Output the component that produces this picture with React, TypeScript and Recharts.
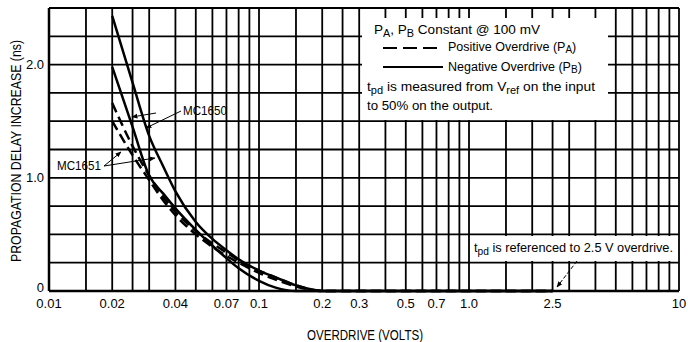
import React from 'react';
import { LineChart, Line, XAxis, YAxis, CartesianGrid } from 'recharts';

// overdrive (volts) sample points shared by all curves
const overdrive = [0.02, 0.025, 0.03, 0.035, 0.04, 0.05, 0.06, 0.07, 0.08, 0.1, 0.12, 0.15, 0.2, 0.3, 0.5, 1, 2.5];

// propagation delay increase (ns)
const mc1650Neg = [2.43, 1.84, 1.37, 1.1, 0.88, 0.61, 0.46, 0.36, 0.28, 0.18, 0.12, 0.05, 0, 0, 0, 0, 0];
const mc1650Low = [1.98, 1.45, 1.02, 0.86, 0.73, 0.54, 0.4, 0.29, 0.2, 0.09, 0.03, 0, 0, 0, 0, 0, 0];
const mc1651PosA = [1.66, 1.28, 1.02, 0.83, 0.7, 0.53, 0.42, 0.34, 0.27, 0.18, 0.12, 0.05, 0, 0, 0, 0, 0];
const mc1651PosB = [1.5, 1.2, 0.98, 0.8, 0.67, 0.5, 0.39, 0.31, 0.25, 0.16, 0.1, 0.04, 0, 0, 0, 0, 0];

// grid lines
const xGrid = [
  0.01, 0.015, 0.02, 0.025, 0.03, 0.04, 0.05, 0.06, 0.07, 0.08, 0.09,
  0.1, 0.15, 0.2, 0.25, 0.3, 0.4, 0.5, 0.6, 0.7, 0.8, 0.9,
  1, 1.5, 2, 2.5, 3, 4, 5, 6, 7, 8, 9, 10,
];
const xLabels: Record<string, string> = {
  '0.01': '0.01', '0.02': '0.02', '0.04': '0.04', '0.07': '0.07', '0.1': '0.1', '0.2': '0.2',
  '0.3': '0.3', '0.5': '0.5', '0.7': '0.7', '1': '1.0', '2.5': '2.5', '10': '10',
};
const yGrid = [0, 0.25, 0.5, 0.75, 1, 1.25, 1.5, 1.75, 2, 2.25, 2.5];
const yLabels: Record<string, string> = { '0': '0', '1': '1.0', '2': '2.0' };

const data = overdrive.map((v, i) => ({
  v,
  a: mc1650Neg[i],
  b: mc1650Low[i],
  c: mc1651PosA[i],
  d: mc1651PosB[i],
}));

const FONT = '"Liberation Sans", Arial, Helvetica, sans-serif';

const XTick = (props: any) => {
  const label = xLabels[String(props.payload.value)];
  if (!label) return null;
  return (
    <text x={props.x} y={308} textAnchor="middle" fontSize={13} fontFamily={FONT} fill="#000">
      {label}
    </text>
  );
};

const YTick = (props: any) => {
  const label = yLabels[String(props.payload.value)];
  if (!label) return null;
  return (
    <text x={44} y={props.y + (props.payload.value === 0 ? 1 : 4.5)} textAnchor="end" fontSize={13} fontFamily={FONT} fill="#000">
      {label}
    </text>
  );
};

export default function App() {
  return (
    <div style={{ position: 'absolute', left: 0, top: 0, width: 688, height: 342, background: '#fff' }}>
      <LineChart width={688} height={342} data={data} margin={{ top: 8, right: 9, left: 0, bottom: 21 }}>
        <CartesianGrid stroke="#000" strokeWidth={1.8} />
        <XAxis
          dataKey="v"
          type="number"
          scale="log"
          domain={[0.01, 10]}
          ticks={xGrid}
          interval={0}
          allowDataOverflow
          tickLine={false}
          axisLine={{ stroke: '#000', strokeWidth: 2.5 }}
          tick={<XTick />}
          height={30}
        />
        <YAxis
          type="number"
          domain={[0, 2.5]}
          ticks={yGrid}
          interval={0}
          tickLine={false}
          axisLine={{ stroke: '#000', strokeWidth: 2.5 }}
          tick={<YTick />}
          width={49}
        />
        <Line dataKey="a" type="monotone" stroke="#000" strokeWidth={2.5} dot={false} isAnimationActive={false} />
        <Line dataKey="b" type="monotone" stroke="#000" strokeWidth={2.5} dot={false} isAnimationActive={false} />
        <Line dataKey="c" type="monotone" stroke="#000" strokeWidth={2.5} strokeDasharray="10 5" dot={false} isAnimationActive={false} />
        <Line dataKey="d" type="monotone" stroke="#000" strokeWidth={2.5} strokeDasharray="10 5" dot={false} isAnimationActive={false} />
      </LineChart>

      <svg width={688} height={342} style={{ position: 'absolute', left: 0, top: 0, pointerEvents: 'none' }} fontFamily={FONT}>
        <defs>
          <marker id="arr" viewBox="0 0 10 10" refX="9" refY="5" markerWidth="6" markerHeight="6" orient="auto-start-reverse">
            <path d="M0,1 L10,5 L0,9 z" fill="#000" />
          </marker>
        </defs>

        {/* legend box */}
        <rect x={362} y={18} width={246} height={102} fill="#fff" />
        <text x={374} y={34} fontSize={12.5} fill="#000" textLength={166} lengthAdjust="spacingAndGlyphs">
          P<tspan fontSize={10} dy={2.5}>A</tspan>
          <tspan dy={-2.5}>, P</tspan>
          <tspan fontSize={10} dy={2.5}>B</tspan>
          <tspan dy={-2.5}> Constant @ 100 mV</tspan>
        </text>
        <line x1={383} y1={48} x2={443} y2={48} stroke="#000" strokeWidth={2.2} strokeDasharray="14 6" />
        <text x={448} y={51} fontSize={12.5} fill="#000">
          Positive Overdrive (P<tspan fontSize={10} dy={2}>A</tspan>
          <tspan dy={-2}>)</tspan>
        </text>
        <line x1={383} y1={67} x2={443} y2={67} stroke="#000" strokeWidth={2.2} />
        <text x={448} y={71} fontSize={12.5} fill="#000">
          Negative Overdrive (P<tspan fontSize={10} dy={2}>B</tspan>
          <tspan dy={-2}>)</tspan>
        </text>
        <text x={367} y={91} fontSize={12.5} fill="#000" textLength={228} lengthAdjust="spacingAndGlyphs">
          t<tspan fontSize={10} dy={2.5}>pd</tspan>
          <tspan dy={-2.5}> is measured from V</tspan>
          <tspan fontSize={10} dy={2.5}>ref</tspan>
          <tspan dy={-2.5}> on the input</tspan>
        </text>
        <text x={367} y={110} fontSize={12.5} fill="#000" textLength={126} lengthAdjust="spacingAndGlyphs">to 50% on the output.</text>

        {/* reference note */}
        <rect x={470} y={236} width={208} height={25} fill="#fff" />
        <text x={474} y={252} fontSize={12.5} fill="#000" textLength={199} lengthAdjust="spacingAndGlyphs">
          t<tspan fontSize={10} dy={2.5}>pd</tspan>
          <tspan dy={-2.5}> is referenced to 2.5 V overdrive.</tspan>
        </text>
        <line x1={577} y1={261} x2={557} y2={287} stroke="#000" strokeWidth={1} strokeDasharray="4 2" markerEnd="url(#arr)" />

        {/* device labels */}
        <text x={183} y={115} fontSize={13} fill="#000" textLength={44} lengthAdjust="spacingAndGlyphs">MC1650</text>
        <line x1={156} y1={113} x2={132} y2={117} stroke="#000" strokeWidth={1} markerEnd="url(#arr)" />
        <line x1={181} y1={111} x2={146} y2={128} stroke="#000" strokeWidth={1} markerEnd="url(#arr)" />
        <text x={57} y={170} fontSize={13} fill="#000" textLength={44} lengthAdjust="spacingAndGlyphs">MC1651</text>
        <line x1={104} y1={166} x2={121} y2={152} stroke="#000" strokeWidth={1} markerEnd="url(#arr)" />
        <line x1={104} y1={166} x2={155} y2={158} stroke="#000" strokeWidth={1} markerEnd="url(#arr)" />

        {/* axis titles */}
        <text x={365} y={340} fontSize={14} fill="#000" textAnchor="middle" textLength={116} lengthAdjust="spacingAndGlyphs">
          OVERDRIVE (VOLTS)
        </text>
        <text
          transform="translate(21,151) rotate(-90)"
          x={0}
          y={0}
          fontSize={14.5}
          fill="#000"
          textAnchor="middle"
          textLength={222}
          lengthAdjust="spacingAndGlyphs"
        >
          PROPAGATION DELAY INCREASE (ns)
        </text>
      </svg>
    </div>
  );
}
